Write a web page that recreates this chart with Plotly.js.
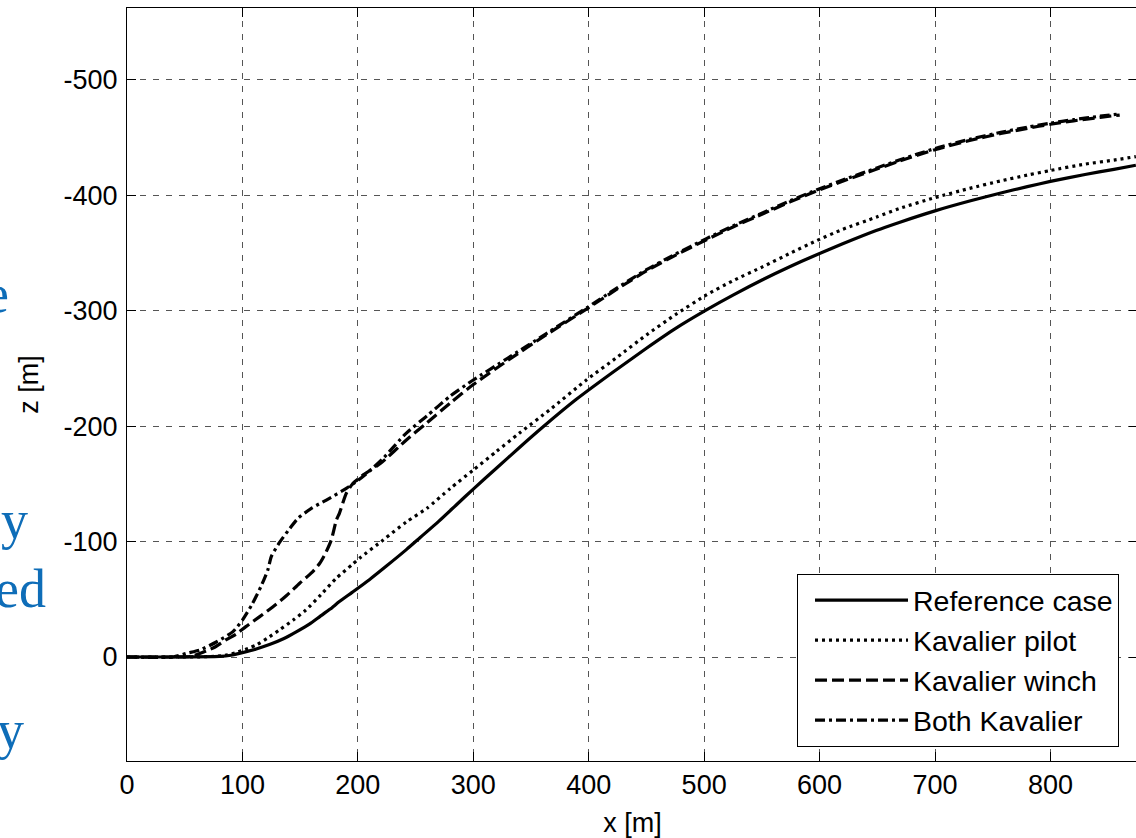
<!DOCTYPE html>
<html>
<head>
<meta charset="utf-8">
<script src="https://cdn.plot.ly/plotly-3.0.1.min.js"></script>
<style>
html,body{margin:0;padding:0;overflow:hidden;background:#fff;}
#chart{width:1140px;height:838px;}
</style>
</head>
<body>
<div id="chart"></div>
<script>
// ---- data ----
var refX   = [0, 40, 80, 90, 100, 112, 124, 136, 147, 158, 167, 176, 184, 195, 210, 225, 242, 254, 270, 285, 300, 320, 340, 360, 389, 420, 450, 475, 502, 525, 551, 575, 594, 620, 649, 669, 700, 730, 757, 780, 800, 830, 855, 874];
var refZ   = [0, 0, -0.5, -1.5, -3.8, -7, -11, -16, -22, -28.5, -35, -41.5, -48, -56, -67, -79, -93, -103.5, -117.5, -131.5, -145.5, -163.5, -181.5, -199, -223, -246, -267.5, -284.5, -300.7, -313.5, -327, -338.5, -347, -358, -369.5, -376.5, -386.5, -395, -402, -407.5, -412, -418, -422.5, -426];

var pilotX = [0, 40, 70, 85, 95, 105, 112, 122, 132, 144, 155, 168, 181, 195, 202, 222, 242, 260, 280, 300, 320, 340, 366, 398, 425, 450, 475, 502, 525, 551, 575, 597, 620, 649, 669, 700, 730, 757, 780, 800, 830, 855, 874];
var pilotZ = [0, 0, -0.3, -1.5, -4, -7.5, -10.4, -16.5, -23.4, -32, -40.7, -54, -68, -80, -86, -101.4, -117, -129, -146, -162, -178, -194, -214, -240, -260, -279, -296.5, -313.7, -326, -338.2, -350, -360.5, -370.5, -381, -388.5, -398, -406, -412.5, -417.5, -421.5, -427, -430.5, -433.5];

var winchX = [0, 40, 55, 63, 75, 86, 95, 103, 115, 126.5, 138, 149.6, 160, 167, 172, 177, 181.4, 184, 190, 195.8, 205, 220, 242, 260, 280, 300, 330, 363, 399, 425, 450, 475, 502, 525, 551, 575, 599.5, 625, 649, 669, 700, 730, 757, 780, 800, 820, 843, 860];
var winchZ = [0, 0, -0.5, -3, -8, -15, -20, -26.3, -35, -43.6, -53, -63.9, -73, -81.2, -90, -101.4, -118.7, -124.5, -141.8, -150.5, -158, -168, -188, -203, -220, -236, -257, -279, -302, -319, -334.5, -348, -361.5, -372.5, -384, -394.5, -404.5, -414, -422.5, -429.5, -439.5, -447.5, -453.5, -458, -461.5, -464.5, -467.5, -469.5];

var bothX  = [0, 40, 51.5, 63, 77.4, 91.8, 100, 108, 116, 122, 125, 132, 140, 148, 160, 172.7, 190, 198.7, 210, 221.8, 242, 260, 280, 300, 330, 363, 399, 425, 450, 475, 502, 525, 551, 575, 599.5, 625, 649, 669, 700, 730, 757, 780, 800, 820, 843, 860];
var bothZ  = [0, 0, -3.2, -6, -13, -22, -32, -45, -61, -75.4, -87, -99, -110, -120, -129, -136, -146, -152, -161, -172, -194, -209, -226, -240, -259, -280, -303, -320, -335.5, -349, -362.5, -373.5, -385, -395.5, -405.5, -415, -423.5, -430.5, -440.5, -448.5, -454.5, -459, -462.5, -465.5, -468.5, -470.5];

var seriesNames = ["Reference case", "Kavalier pilot", "Kavalier winch", "Both Kavalier"];

var xTickVals = [0, 100, 200, 300, 400, 500, 600, 700, 800];
var xTickText = ["0", "100", "200", "300", "400", "500", "600", "700", "800"];
var yTickVals = [-500, -400, -300, -200, -100, 0];
var yTickText = ["-500", "-400", "-300", "-200", "-100", "0"];

// fragments of the surrounding document text visible at the left edge
var sideTexts = ["e", "y", "ed", "y"];

// ---- layout geometry (pixels) ----
var W = 1140, H = 838;
var mL = 127, mR = 2, mT = 8, mB = 77;
var pw = W - mL - mR, ph = H - mT - mB;
function px2x(px){ return (px - mL) / pw; }
function px2y(py){ return (H - mB - py) / ph; }

var fontFam = "Liberation Sans, Arial, Helvetica, sans-serif";
var lineCol = "#000";

var dashes = ["solid", "3px,4px", "12px,5px", "10px,4px,3px,4px"];
var xs = [refX, pilotX, winchX, bothX];
var zs = [refZ, pilotZ, winchZ, bothZ];

var traces = [];
for (var i = 0; i < 4; i++) {
  traces.push({
    x: xs[i], y: zs[i], type: "scatter", mode: "lines",
    name: seriesNames[i], legendgroup: "g" + i,
    line: {color: lineCol, width: 3.2, dash: dashes[i], shape: "spline", smoothing: 0.6}
  });
}

var sidePos = [[11, 294], [30, 520], [48, 589], [26, 730]];
var annotations = sideTexts.map(function(t, k){
  return {
    text: t, xref: "paper", yref: "paper",
    x: px2x(sidePos[k][0]), y: px2y(sidePos[k][1]),
    xanchor: "right", yanchor: "middle", showarrow: false,
    font: {family: "Liberation Serif, Times New Roman, serif", size: 54, color: "#0e6db8"}
  };
});

var layout = {
  width: W, height: H,
  margin: {l: mL, r: mR, t: mT, b: mB, pad: 0},
  paper_bgcolor: "#fff", plot_bgcolor: "#fff",
  font: {family: fontFam, size: 27, color: "#000"},
  showlegend: true,
  xaxis: {
    range: [0, pw / 1.1543], tickmode: "array", tickvals: xTickVals, ticktext: xTickText,
    ticks: "inside", ticklen: 9, tickcolor: "#000", tickwidth: 1,
    showline: true, linecolor: "#000", linewidth: 1, mirror: "ticks",
    showgrid: true, gridcolor: "#555", gridwidth: 1, griddash: "6px,7px",
    zeroline: false, tickfont: {size: 27}, ticklabelstandoff: 0,
    title: {text: "x [m]", font: {size: 27}, standoff: 18}
  },
  yaxis: {
    range: [104 / 1.1543, -(657 - mT) / 1.1543], tickmode: "array", tickvals: yTickVals, ticktext: yTickText,
    ticks: "inside", ticklen: 9, tickcolor: "#000", tickwidth: 1,
    showline: true, linecolor: "#000", linewidth: 1, mirror: "ticks",
    showgrid: true, gridcolor: "#555", gridwidth: 1, griddash: "6px,7px",
    zeroline: false, tickfont: {size: 27}, ticklabelstandoff: 3,
    title: {text: "z [m]", font: {size: 27}, standoff: 17}
  },
  legend: {
    x: px2x(797), y: px2y(574), xanchor: "left", yanchor: "top",
    bgcolor: "#fff", bordercolor: "#000", borderwidth: 1,
    font: {family: fontFam, size: 28.5, color: "#000"},
    itemwidth: 93, indentation: 12, tracegroupgap: 5, traceorder: "normal"
  },
  annotations: annotations
};

Plotly.newPlot("chart", traces, layout, {displayModeBar: false, staticPlot: true});
</script>
</body>
</html>
